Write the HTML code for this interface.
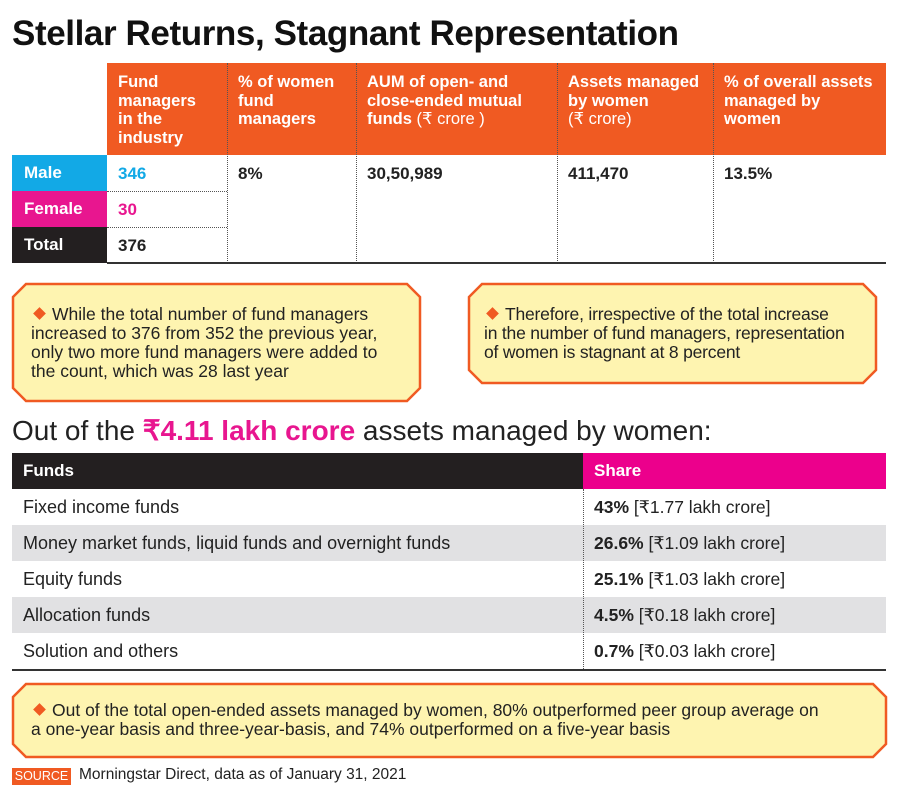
<!DOCTYPE html>
<html><head><meta charset="utf-8"><style>
*{margin:0;padding:0;box-sizing:border-box}
body{width:900px;height:797px;background:#fff;position:relative;overflow:hidden;font-family:"Liberation Sans",sans-serif;color:#222}
.a{position:absolute}
.h{color:#fff;font-weight:bold;font-size:16.5px;line-height:18.5px}
.b{font-weight:bold;font-size:17px}
.lab{color:#fff;font-weight:bold;font-size:17px;padding-left:12px;line-height:36px}
.vd{border-left:1.5px dotted #555}
.hd{border-top:1.5px dotted #555}
.row{left:12px;width:874px;height:36px}
.c1{left:23px;font-size:18px;line-height:36px}
.c2{left:594px;font-size:17.5px;line-height:36px}
.call{font-size:17.5px;line-height:19px;color:#222;white-space:nowrap}
.dia{display:inline-block;width:9px;height:9px;background:#f05a22;transform:rotate(45deg);margin:0 8px 2px 4px}
</style></head><body>
<div class="a" style="left:12px;top:14px;font-size:35px;font-weight:bold;color:#111;letter-spacing:-0.4px">Stellar Returns, Stagnant Representation</div>

<div class="a" style="left:107px;top:63px;width:779px;height:92px;background:#f05a22"></div>
<div class="a h" style="left:118px;top:73px">Fund<br>managers<br>in the<br>industry</div>
<div class="a h" style="left:238px;top:73px">% of women<br>fund<br>managers</div>
<div class="a h" style="left:367px;top:73px">AUM of open- and<br>close-ended mutual<br>funds <span style="font-weight:normal">(₹ crore )</span></div>
<div class="a h" style="left:568px;top:73px">Assets managed<br>by women<br><span style="font-weight:normal">(₹ crore)</span></div>
<div class="a h" style="left:724px;top:73px">% of overall assets<br>managed by<br>women</div>

<div class="a lab" style="left:12px;top:155px;width:95px;height:36px;background:#12a9e6">Male</div>
<div class="a lab" style="left:12px;top:191px;width:95px;height:36px;background:#e8168f">Female</div>
<div class="a lab" style="left:12px;top:227px;width:95px;height:36px;background:#231f20">Total</div>
<div class="a b" style="left:118px;top:164px;color:#12a9e6">346</div>
<div class="a b" style="left:118px;top:200px;color:#e8168f">30</div>
<div class="a b" style="left:118px;top:236px">376</div>
<div class="a b" style="left:238px;top:164px">8%</div>
<div class="a b" style="left:367px;top:164px">30,50,989</div>
<div class="a b" style="left:568px;top:164px">411,470</div>
<div class="a b" style="left:724px;top:164px">13.5%</div>
<div class="a hd" style="left:107px;top:191px;width:120px"></div>
<div class="a hd" style="left:107px;top:227px;width:120px"></div>
<div class="a vd" style="left:227px;top:63px;height:200px"></div>
<div class="a vd" style="left:356px;top:63px;height:200px"></div>
<div class="a vd" style="left:557px;top:63px;height:200px"></div>
<div class="a vd" style="left:713px;top:63px;height:200px"></div>
<div class="a" style="left:107px;top:262px;width:779px;height:2px;background:#333"></div>

<svg class="a" style="left:0;top:0" width="900" height="797">
<polygon points="26,284 407,284 420,297 420,388 407,401 26,401 13,388 13,297" fill="#fef4b0" stroke="#f05a22" stroke-width="2.5"/>
<polygon points="482,284 863,284 876,297 876,370 863,383 482,383 469,370 469,297" fill="#fef4b0" stroke="#f05a22" stroke-width="2.5"/>
<polygon points="26,684 873,684 886,697 886,744 873,757 26,757 13,744 13,697" fill="#fef4b0" stroke="#f05a22" stroke-width="2.5"/>
</svg>
<div class="a call" style="left:31px;top:305px"><span class="dia"></span>While the total number of fund managers<br>increased to 376 from 352 the previous year,<br>only two more fund managers were added to<br>the count, which was 28 last year</div>
<div class="a call" style="left:484px;top:305px;letter-spacing:-0.2px"><span class="dia"></span>Therefore, irrespective of the total increase<br>in the number of fund managers, representation<br>of women is stagnant at 8 percent</div>
<div class="a call" style="left:31px;top:701px"><span class="dia"></span>Out of the total open-ended assets managed by women, 80% outperformed peer group average on<br>a one-year basis and three-year-basis, and 74% outperformed on a five-year basis</div>

<div class="a" style="left:12px;top:414px;font-size:28px;color:#222">Out of the <span style="color:#e8168f;font-weight:bold">₹4.11 lakh crore</span> assets managed by women:</div>
<div class="a" style="left:12px;top:453px;width:571px;height:36px;background:#231f20"></div>
<div class="a" style="left:583px;top:453px;width:303px;height:36px;background:#ec008c"></div>
<div class="a" style="left:23px;top:453px;line-height:36px;color:#fff;font-weight:bold;font-size:17px">Funds</div>
<div class="a" style="left:594px;top:453px;line-height:36px;color:#fff;font-weight:bold;font-size:17px">Share</div>
<div class="a row" style="top:525px;background:#e1e1e3"></div>
<div class="a row" style="top:597px;background:#e1e1e3"></div>
<div class="a c1" style="top:489px">Fixed income funds</div>
<div class="a c1" style="top:525px">Money market funds, liquid funds and overnight funds</div>
<div class="a c1" style="top:561px">Equity funds</div>
<div class="a c1" style="top:597px">Allocation funds</div>
<div class="a c1" style="top:633px">Solution and others</div>
<div class="a c2" style="top:489px"><b>43%</b> [₹1.77 lakh crore]</div>
<div class="a c2" style="top:525px"><b>26.6%</b> [₹1.09 lakh crore]</div>
<div class="a c2" style="top:561px"><b>25.1%</b> [₹1.03 lakh crore]</div>
<div class="a c2" style="top:597px"><b>4.5%</b> [₹0.18 lakh crore]</div>
<div class="a c2" style="top:633px"><b>0.7%</b> [₹0.03 lakh crore]</div>
<div class="a vd" style="left:583px;top:489px;height:180px"></div>
<div class="a" style="left:12px;top:669px;width:874px;height:2px;background:#333"></div>

<div class="a" style="left:12px;top:768px;width:59px;height:17px;background:#f05a22;color:#fff;font-size:12.5px;line-height:17px;text-align:center">SOURCE</div>
<div class="a" style="left:79px;top:766px;font-size:15.5px;color:#222">Morningstar Direct, data as of January 31, 2021</div>
</body></html>
